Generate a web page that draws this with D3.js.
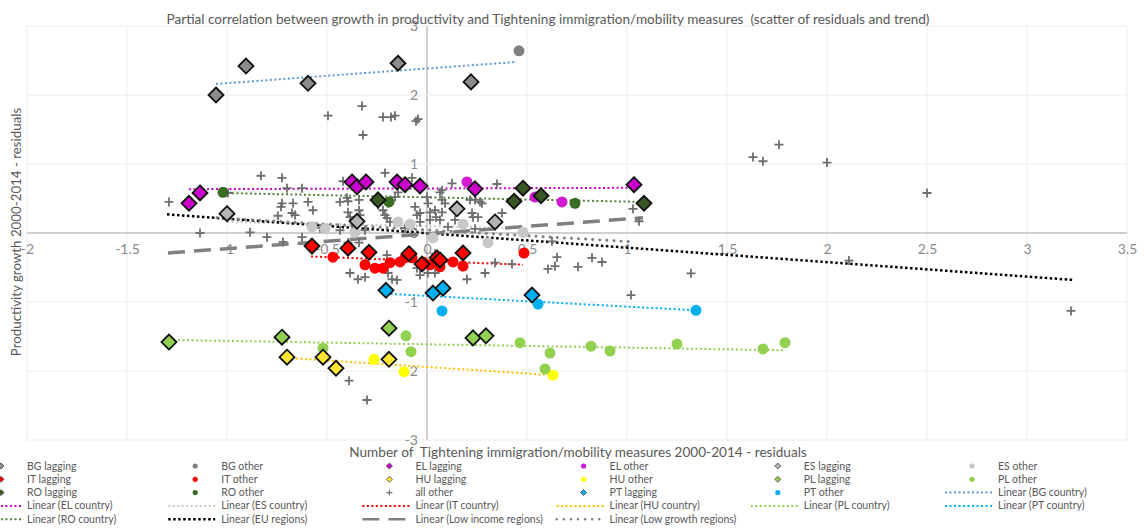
<!DOCTYPE html>
<html>
<head>
<meta charset="utf-8">
<script src="https://cdn.jsdelivr.net/npm/d3@7"></script>
<style>
  body { margin: 0; background: #fff; }
  svg { display: block; font-family: Lato, 'Open Sans', sans-serif; }
</style>
</head>
<body>
<div id="chart"></div>
<script>
// Scatter values [x residual, y residual]
var bgLagging = [[-1.055, 2.0], [-0.905, 2.42], [-0.595, 2.17], [-0.145, 2.46], [0.22, 2.19]];
var bgOther = [[0.46, 2.64]];
var elLagging = [[-1.19, 0.43], [-1.135, 0.58], [-0.375, 0.74], [-0.35, 0.67], [-0.305, 0.74],
  [-0.15, 0.74], [-0.11, 0.70], [-0.035, 0.68], [0.24, 0.64], [1.035, 0.70]];
var elOther = [[0.2, 0.74], [0.54, 0.52], [0.675, 0.45]];
var esLagging = [[-1.0, 0.28], [-0.35, 0.17], [0.15, 0.35], [0.34, 0.16]];
var esOther = [[-0.575, 0.09], [-0.51, 0.06], [-0.36, 0.01], [-0.145, 0.16], [-0.085, 0.13],
  [0.03, -0.07], [0.18, 0.13], [0.305, -0.14], [0.48, 0.01]];
var itLagging = [[-0.575, -0.19], [-0.395, -0.22], [-0.29, -0.28], [-0.09, -0.30], [-0.025, -0.45],
  [0.05, -0.36], [0.065, -0.39], [0.18, -0.29]];
var itOther = [[-0.47, -0.35], [-0.31, -0.46], [-0.26, -0.51], [-0.22, -0.51], [-0.185, -0.43],
  [-0.135, -0.42], [-0.11, -0.36], [-0.075, -0.36], [-0.02, -0.42], [0.015, -0.46],
  [0.065, -0.49], [0.13, -0.42], [0.18, -0.48], [0.485, -0.29]];
var huLagging = [[-0.70, -1.80], [-0.52, -1.80], [-0.455, -1.96], [-0.19, -1.83]];
var huOther = [[-0.265, -1.83], [-0.115, -2.01], [0.63, -2.06]];
var plLagging = [[-1.29, -1.58], [-0.725, -1.51], [-0.19, -1.38], [0.23, -1.52], [0.295, -1.49]];
var plOther = [[-0.52, -1.67], [-0.105, -1.49], [-0.08, -1.72], [0.465, -1.59], [0.615, -1.74],
  [0.59, -1.97], [0.82, -1.64], [0.915, -1.71], [1.25, -1.61], [1.68, -1.68], [1.79, -1.59]];
var roLagging = [[-0.245, 0.48], [0.435, 0.46], [0.48, 0.65], [0.57, 0.54], [1.085, 0.43]];
var roOther = [[-1.02, 0.59], [-0.19, 0.45], [0.74, 0.43]];
var ptLagging = [[-0.205, -0.83], [0.03, -0.87], [0.08, -0.80], [0.525, -0.90]];
var ptOther = [[0.075, -1.13], [0.555, -1.03], [1.345, -1.12]];
var allOther = [
  [-0.495, 1.70], [-0.325, 1.84], [-0.32, 1.42], [-0.22, 1.68], [-0.18, 1.68], [-0.16, 1.70],
  [-0.055, 1.62], [-0.045, 1.65],
  [1.63, 1.10], [1.68, 1.04], [1.76, 1.28], [2.0, 1.02], [2.50, 0.58], [2.11, -0.40],
  [1.32, -0.585], [1.02, -0.90], [3.22, -1.13], [1.03, 0.35], [1.06, 0.17],
  [-0.83, 0.83], [-0.725, 0.80], [-0.70, 0.65], [-0.625, 0.65], [-1.29, 0.45], [-0.995, 0.58],
  [-0.42, 0.75], [-0.21, 0.87], [-0.075, 0.80], [0.075, 0.62], [0.125, 0.72], [0.35, 0.71],
  [0.24, 0.48], [0.265, 0.45], [0.375, 0.29], [0.225, 0.29], [0.255, 0.23],
  [-0.395, 0.46], [-0.395, 0.30], [-0.34, 0.48], [-0.34, 0.33], [-0.22, 0.33], [-0.195, 0.43],
  [-0.16, 0.52], [-0.145, 0.59], [-0.06, 0.38], [-0.035, 0.29], [0.005, 0.43], [0.015, 0.30],
  [0.045, 0.23], [0.075, 0.30], [0.09, 0.43], [-0.725, 0.43], [-0.67, 0.43], [-0.595, 0.45],
  [-0.57, 0.33], [-0.675, 0.29], [-0.66, 0.26], [-0.73, 0.38], [-0.745, 0.25], [-0.435, 0.45],
  [-0.40, 0.51], [-0.385, 0.23], [-0.335, 0.26], [-0.245, 0.41], [-0.21, 0.26], [-0.20, 0.22],
  [-0.185, 0.16], [-0.05, 0.26], [-0.035, 0.16], [0.0, 0.52], [0.075, 0.48], [0.04, 0.33],
  [0.215, 0.48], [0.275, 0.43], [0.23, 0.23], [0.015, 0.19], [0.065, 0.19], [0.14, 0.19],
  [0.105, 0.09], [0.24, 0.06], [0.065, 0.59], [-0.535, 0.07], [-0.435, 0.04], [-0.31, 0.04],
  [-0.11, 0.07],
  [-1.135, 0.0], [-0.885, 0.01], [-0.80, -0.06], [-0.72, -0.13], [-0.625, -0.06],
  [-0.395, -0.14], [-0.34, -0.14], [-0.20, -0.32], [0.04, -0.30],
  [-0.385, -0.58], [-0.345, -0.67], [-0.31, -0.64], [-0.195, -0.58], [-0.175, -0.67],
  [-0.15, -0.68], [-0.05, -0.51], [-0.035, -0.61], [0.005, -0.58], [0.04, -0.58], [0.20, -0.67],
  [0.29, -0.58], [0.34, -0.43], [0.425, -0.45], [0.625, -0.12], [0.65, -0.35], [0.605, -0.52],
  [0.64, -0.48], [0.755, -0.49], [0.825, -0.36], [0.875, -0.42], [-0.39, -2.14], [-0.30, -2.42]
];

// Trend line end points [[x0, y0], [x1, y1]]
var trendBG = [[-1.055, 2.16], [0.45, 2.48]];
var trendEL = [[-1.19, 0.635], [1.035, 0.655]];
var trendES = [[-1.0, 0.16], [0.48, 0.07]];
var trendIT = [[-0.58, -0.34], [0.48, -0.46]];
var trendHU = [[-0.70, -1.81], [0.63, -2.06]];
var trendPL = [[-1.29, -1.55], [1.79, -1.70]];
var trendPT = [[-0.205, -0.88], [1.345, -1.12]];
var trendRO = [[-1.02, 0.58], [1.085, 0.45]];
var trendEU = [[-1.30, 0.27], [3.23, -0.68]];
var trendLowIncome = [[-1.295, -0.29], [1.08, 0.22]];
var trendLowGrowth = [[-1.05, 0.22], [1.04, -0.13]];

// Axis ticks
var xTicks = [-2, -1.5, -1, -0.5, 0, 0.5, 1, 1.5, 2, 2.5, 3, 3.5];
var yTicks = [-3, -2, -1, 0, 1, 2, 3];

// Series definitions (legend order)
var points = [
  { label: 'BG lagging', data: bgLagging, shape: 'diamond', color: '#8c8c8c' },
  { label: 'BG other', data: bgOther, shape: 'circle', color: '#808080' },
  { label: 'EL lagging', data: elLagging, shape: 'diamond', color: '#cc00cc' },
  { label: 'EL other', data: elOther, shape: 'circle', color: '#d21ad2' },
  { label: 'ES lagging', data: esLagging, shape: 'diamond', color: '#b4b4b4' },
  { label: 'ES other', data: esOther, shape: 'circle', color: '#c8c8c8' },
  { label: 'IT lagging', data: itLagging, shape: 'diamond', color: '#ff0000' },
  { label: 'IT other', data: itOther, shape: 'circle', color: '#ff0000' },
  { label: 'HU lagging', data: huLagging, shape: 'diamond', color: '#ffe633' },
  { label: 'HU other', data: huOther, shape: 'circle', color: '#ffff00' },
  { label: 'PL lagging', data: plLagging, shape: 'diamond', color: '#92d050' },
  { label: 'PL other', data: plOther, shape: 'circle', color: '#92d050' },
  { label: 'RO lagging', data: roLagging, shape: 'diamond', color: '#385723' },
  { label: 'RO other', data: roOther, shape: 'circle', color: '#3a6b23' },
  { label: 'all other', data: allOther, shape: 'plus', color: '#6e6e6e' },
  { label: 'PT lagging', data: ptLagging, shape: 'diamond', color: '#00b0f0' },
  { label: 'PT other', data: ptOther, shape: 'circle', color: '#00b0f0' }
];
var trends = [
  { label: 'Linear (BG country)', data: trendBG, color: '#5b9bd5', width: 2, dash: '2,2.5' },
  { label: 'Linear (EL country)', data: trendEL, color: '#cc00cc', width: 2, dash: '2,2.5' },
  { label: 'Linear (ES country)', data: trendES, color: '#c8c8c8', width: 2, dash: '2,2.5' },
  { label: 'Linear (IT country)', data: trendIT, color: '#ff0000', width: 2, dash: '2,2.5' },
  { label: 'Linear (HU country)', data: trendHU, color: '#ffc000', width: 2, dash: '2,2.5' },
  { label: 'Linear (PL country)', data: trendPL, color: '#92d050', width: 2, dash: '2,2.5' },
  { label: 'Linear (PT country)', data: trendPT, color: '#00b0f0', width: 2, dash: '2,2.5' },
  { label: 'Linear (RO country)', data: trendRO, color: '#548235', width: 2, dash: '2,2.5' },
  { label: 'Linear (EU regions)', data: trendEU, color: '#000000', width: 2.5, dash: '2.5,2.5' },
  { label: 'Linear (Low income regions)', data: trendLowIncome, color: '#808080', width: 3.5, dash: '17,9' },
  { label: 'Linear (Low growth regions)', data: trendLowGrowth, color: '#808080', width: 3, dash: '0.1,7', cap: 'round' }
];

var width = 1145;
var height = 528;

var x = d3.scaleLinear().domain([-2, 3.5]).range([27, 1127]);
var y = d3.scaleLinear().domain([-3, 3]).range([440, 26]);

var svg = d3.select('#chart')
            .append('svg')
            .attr('width', width)
            .attr('height', height);

// Gridlines
svg.append('g')
   .selectAll('line')
   .data(xTicks)
   .enter()
   .append('line')
   .attr('x1', function (d) { return x(d); })
   .attr('x2', function (d) { return x(d); })
   .attr('y1', y(3))
   .attr('y2', y(-3))
   .attr('stroke', function (d) { return d === 0 ? '#bfbfbf' : '#ececec'; })
   .attr('stroke-width', function (d) { return d === 0 ? 1.5 : 1; });
svg.append('g')
   .selectAll('line')
   .data(yTicks)
   .enter()
   .append('line')
   .attr('x1', x(-2))
   .attr('x2', x(3.5))
   .attr('y1', function (d) { return y(d); })
   .attr('y2', function (d) { return y(d); })
   .attr('stroke', function (d) { return d === 0 ? '#bfbfbf' : '#ececec'; })
   .attr('stroke-width', function (d) { return d === 0 ? 1.5 : 1; });

// Axes crossing at zero
var xAxis = svg.append('g')
               .attr('transform', 'translate(0,' + y(0) + ')')
               .call(d3.axisBottom(x).tickValues(xTicks).tickSize(0).tickPadding(11)
                       .tickFormat(function (d) { return String(d); }));
var yAxis = svg.append('g')
               .attr('transform', 'translate(' + x(0) + ',0)')
               .call(d3.axisLeft(y).tickValues(yTicks).tickSize(0).tickPadding(9)
                       .tickFormat(function (d) { return String(d); }));
[xAxis, yAxis].forEach(function (a) {
  a.select('.domain').remove();
  a.selectAll('text')
   .attr('fill', '#8a8a8a')
   .style('font-size', '14px')
   .style('font-family', 'Lato, sans-serif');
});

// Shapes
function diamondPath(r) {
  return 'M0,' + (-r) + 'L' + r + ',0L0,' + r + 'L' + (-r) + ',0Z';
}
function plusPath(r) {
  return 'M' + (-r) + ',0H' + r + 'M0,' + (-r) + 'V' + r;
}
function drawMarker(sel, s, small) {
  if (s.shape === 'circle') {
    sel.append('circle')
       .attr('r', small ? 2.6 : 5.5)
       .attr('fill', s.color);
  } else if (s.shape === 'diamond') {
    sel.append('path')
       .attr('d', diamondPath(small ? 3 : 7.5))
       .attr('fill', s.color)
       .attr('stroke', small ? '#555' : '#111')
       .attr('stroke-width', small ? 0.9 : 1.8);
  } else {
    sel.append('path')
       .attr('d', plusPath(small ? 3 : 4.5))
       .attr('stroke', s.color)
       .attr('stroke-width', small ? 1.1 : 1.8);
  }
}

// "all other" crosses first
var pointLayer = svg.append('g');
var drawOrder = [14].concat(d3.range(17).filter(function (i) { return i !== 14 && points[i].shape === 'circle'; }))
                    .concat(d3.range(17).filter(function (i) { return points[i].shape === 'diamond'; }));

function drawSeries(i) {
  var s = points[i];
  pointLayer.append('g')
            .selectAll('g')
            .data(s.data)
            .enter()
            .append('g')
            .attr('transform', function (d) { return 'translate(' + x(d[0]) + ',' + y(d[1]) + ')'; })
            .each(function () { drawMarker(d3.select(this), s, false); });
}
drawSeries(14);

// Trend lines
var line = d3.line()
             .x(function (d) { return x(d[0]); })
             .y(function (d) { return y(d[1]); });
svg.append('g')
   .selectAll('path')
   .data(trends)
   .enter()
   .append('path')
   .attr('d', function (d) { return line(d.data); })
   .attr('fill', 'none')
   .attr('stroke', function (d) { return d.color; })
   .attr('stroke-width', function (d) { return d.width; })
   .attr('stroke-dasharray', function (d) { return d.dash; })
   .attr('stroke-linecap', function (d) { return d.cap || 'butt'; });

pointLayer.raise();
drawOrder.slice(1).forEach(drawSeries);

// Titles
svg.append('text')
   .attr('x', 548)
   .attr('y', 24)
   .attr('text-anchor', 'middle')
   .attr('fill', '#595959')
   .style('font-size', '13.6px')
   .style('white-space', 'pre')
   .text('Partial correlation between growth in productivity and Tightening immigration/mobility measures  (scatter of residuals and trend)');
svg.append('text')
   .attr('x', 578)
   .attr('y', 457)
   .attr('text-anchor', 'middle')
   .attr('fill', '#595959')
   .style('font-size', '13.6px')
   .style('white-space', 'pre')
   .text('Number of  Tightening immigration/mobility measures 2000-2014 - residuals');
svg.append('text')
   .attr('transform', 'translate(21,232) rotate(-90)')
   .attr('text-anchor', 'middle')
   .attr('fill', '#595959')
   .style('font-size', '13.3px')
   .text('Productivity growth 2000-2014 - residuals');

// Legend, six columns
var legendItems = points.map(function (p) { return { kind: 'point', s: p }; })
                        .concat(trends.map(function (t) { return { kind: 'line', s: t }; }));
var legend = svg.append('g')
                .selectAll('g')
                .data(legendItems)
                .enter()
                .append('g')
                .attr('transform', function (d, i) {
                  return 'translate(' + (27 + 194.2 * (i % 6)) + ',' + (466 + 13.3 * Math.floor(i / 6)) + ')';
                });
legend.each(function (d) {
  var g = d3.select(this);
  if (d.kind === 'point') {
    drawMarker(g.append('g').attr('transform', 'translate(-26,0)'), d.s, true);
  } else {
    g.append('line')
     .attr('x1', -53)
     .attr('x2', -6)
     .attr('stroke', d.s.color)
     .attr('stroke-width', Math.min(d.s.width, 2.5))
     .attr('stroke-dasharray', d.s.dash)
     .attr('stroke-linecap', d.s.cap || 'butt');
  }
});
legend.append('text')
      .attr('y', 3.5)
      .attr('fill', '#595959')
      .style('font-size', '10.5px')
      .text(function (d) { return d.s.label; });
</script>
</body>
</html>
